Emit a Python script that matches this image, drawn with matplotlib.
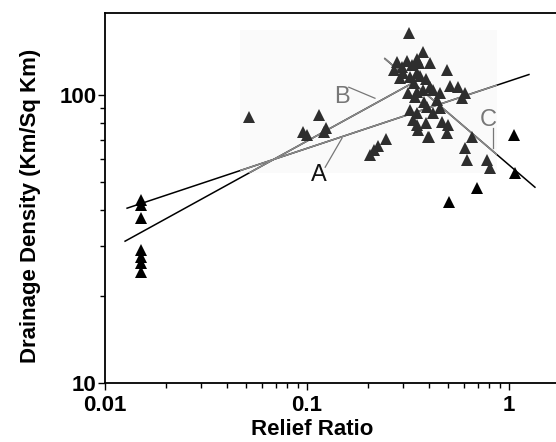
"""
Drainage density vs relief ratio (log-log scatter with fitted lines A, B, C)
"""
import numpy as np
import matplotlib
matplotlib.use('Agg')
import matplotlib.pyplot as plt
from matplotlib.patches import Rectangle
from matplotlib.ticker import LogLocator, NullFormatter, FixedLocator, FixedFormatter

plt.rcParams['font.family'] = ['Liberation Sans', 'DejaVu Sans']

# relief ratio / drainage density (km/sq km)
relief = [0.015, 0.015, 0.015, 0.015, 0.015, 0.015, 0.015,
          0.0516, 0.115, 0.0955, 0.1, 0.124, 0.121,
          0.205, 0.215, 0.225, 0.246,
          0.32,
          0.279, 0.313, 0.35, 0.288, 0.323, 0.295, 0.363, 0.375, 0.36, 0.405,
          0.35, 0.39, 0.493, 0.316, 0.35, 0.375, 0.406, 0.42, 0.455, 0.51,
          0.56, 0.605, 0.585, 0.342, 0.323, 0.35, 0.393, 0.42, 0.455, 0.335,
          0.466, 0.499, 0.354, 0.35, 0.39, 0.397, 0.493, 0.4,
          0.27, 0.30, 0.34, 0.38, 0.44, 0.33,
          0.656, 0.605, 0.62, 0.778, 0.805,
          1.06, 1.07, 0.695, 0.505]
density = [43.2, 41.5, 37.4, 29.0, 27.4, 26.1, 24.3,
           83.9, 85.2, 74.4, 73.0, 76.8, 74.4,
           62.0, 64.5, 66.5, 70.3,
           164,
           130, 132, 134, 114.5, 115.5, 125, 117, 141, 129, 129,
           119, 114, 122, 101.6, 102.4, 104, 106.6, 104, 101.6, 108,
           106.6, 101.6, 97.6, 98.4, 88.7, 86.6, 90.8, 86.6, 90.1, 81.9,
           80.6, 78.7, 75.6, 78.7, 80.0, 71.5, 73.8, 71.5,
           122, 119, 110, 95, 96, 127,
           71.5, 65.5, 59.5, 59.5, 55.8,
           72.6, 53.6, 47.5, 42.5]

# regression lines (end points)
line_a_x = [0.01285, 1.256]
line_a_y = [40.5, 118]
line_b_x = [0.01256, 0.331]
line_b_y = [31.1, 110]
line_c_x = [0.243, 1.345]
line_c_y = [134, 47.9]

# lighter patch of the scan
box_x = [0.0466, 0.872]
box_y = [53.6, 168]

fig = plt.figure(figsize=(5.56, 4.42), dpi=100)
ax = fig.add_axes([0.189, 0.1335, 0.811, 0.837])
ax.set_xscale('log')
ax.set_yscale('log')
ax.set_xlim(0.01, 1.71)
ax.set_ylim(10, 193)

rect = Rectangle((box_x[0], box_y[0]), box_x[1] - box_x[0], box_y[1] - box_y[0],
                 facecolor='#fafafa', edgecolor='none', zorder=0)
ax.add_patch(rect)

for lx, ly in [(line_a_x, line_a_y), (line_b_x, line_b_y), (line_c_x, line_c_y)]:
    ax.plot(lx, ly, color='black', lw=1.1, zorder=2)
    g, = ax.plot(lx, ly, color='#8a8a8a', lw=1.1, zorder=2.5)
    g.set_clip_path(rect)

rx = np.array(relief)
dy = np.array(density)
inside = (rx > box_x[0]) & (rx < box_x[1]) & (dy > box_y[0]) & (dy < box_y[1])
ax.plot(rx[~inside], dy[~inside], '^', color='black', ms=8.5, mew=0, zorder=3)
ax.plot(rx[inside], dy[inside], '^', color='#2e2e2e', ms=8.5, mew=0, zorder=3)

# line labels with leaders
ax.text(0.115, 52.8, 'A', fontsize=17, color='#111111', ha='center', va='center')
ax.plot([0.123, 0.149], [56.2, 70.9], color='#777777', lw=0.9)
ax.text(0.149, 98.4, 'B', fontsize=17, color='#777777', ha='center', va='center')
ax.plot([0.161, 0.217], [106.6, 97.6], color='#777777', lw=0.9)
ax.text(0.787, 81.9, 'C', fontsize=17, color='#777777', ha='center', va='center')
ax.plot([0.834, 0.834], [76.8, 65.5], color='#777777', lw=0.9)

ax.spines['right'].set_visible(False)
for s in ['left', 'bottom', 'top']:
    ax.spines[s].set_linewidth(1.3)

ax.xaxis.set_major_locator(FixedLocator([0.01, 0.1, 1]))
ax.xaxis.set_major_formatter(FixedFormatter(['0.01', '0.1', '1']))
ax.xaxis.set_minor_locator(LogLocator(base=10, subs=np.arange(2, 10)))
ax.xaxis.set_minor_formatter(NullFormatter())
ax.yaxis.set_major_locator(FixedLocator([10, 100]))
ax.yaxis.set_major_formatter(FixedFormatter(['10', '100']))
ax.yaxis.set_minor_locator(LogLocator(base=10, subs=np.arange(2, 10)))
ax.yaxis.set_minor_formatter(NullFormatter())

ax.tick_params(which='both', direction='out', width=1, labelsize=16)
ax.tick_params(which='major', length=5)
ax.tick_params(which='minor', length=3.5)
ax.tick_params(axis='y', pad=1)
ax.tick_params(axis='x', pad=4)
for lab in ax.get_xticklabels() + ax.get_yticklabels():
    lab.set_fontweight('bold')

ax.set_xlabel('Relief Ratio', fontsize=16, fontweight='bold')
ax.xaxis.set_label_coords(0.459, -0.127)
ax.xaxis.label.set_va('center')
ax.set_ylabel('Drainage Density (Km/Sq Km)', fontsize=16, fontweight='bold')
ax.yaxis.set_label_coords(-0.166, 0.478)
ax.yaxis.label.set_va('center')

plt.savefig('out.png', dpi=100)
